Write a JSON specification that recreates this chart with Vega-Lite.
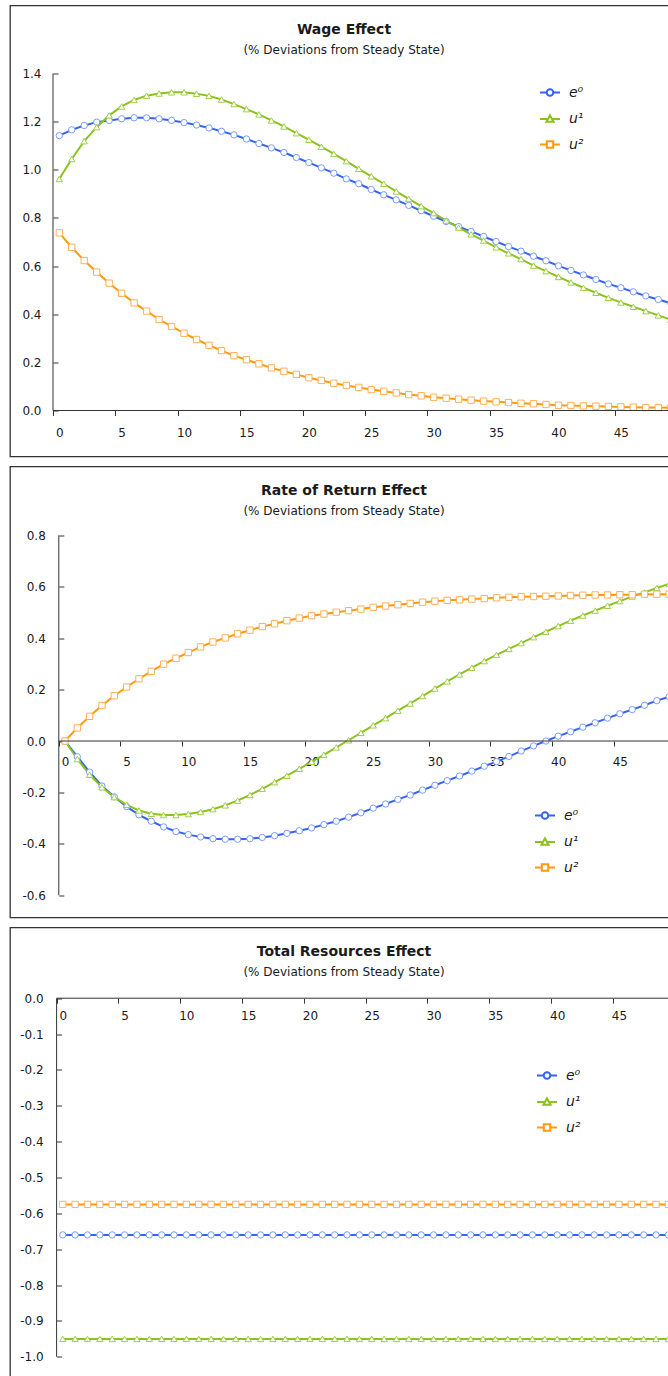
{
  "$schema": "https://vega.github.io/schema/vega-lite/v6.json",
  "padding": {"left": 9, "top": 4.5, "right": -22, "bottom": -19},
  "background": "white",
  "spacing": 8,
  "resolve": {"scale": {"color": "independent"}, "legend": {"color": "independent"}},
  "config": {
    "view": {"stroke": "#333333", "strokeWidth": 1.3},
    "axis": {"domain": false, "grid": false, "labelFont": "DejaVu Sans", "labelFontSize": 12, "labelColor": "#1a1a1a", "tickColor": "#333333", "tickWidth": 1, "labelOverlap": false, "labelFlush": false, "labelBound": false},
    "legend": {"orient": "none", "labelFont": "DejaVu Sans", "labelFontSize": 14, "labelFontStyle": "italic", "labelColor": "#1a1a1a", "symbolSize": 400, "rowPadding": 7.5, "labelOffset": 8, "padding": 0},
    "title": {"font": "DejaVu Sans", "fontSize": 14, "fontWeight": "bold", "color": "#1a1a1a", "subtitleFont": "DejaVu Sans", "subtitleFontSize": 12, "subtitleColor": "#1a1a1a", "subtitlePadding": 8, "anchor": "middle", "frame": "group"}
  },
  "datasets": {
    "wage": [
      {"t":0,"s":"e⁰","v":1.142},{"t":1,"s":"e⁰","v":1.166},{"t":2,"s":"e⁰","v":1.184},{"t":3,"s":"e⁰","v":1.198},{"t":4,"s":"e⁰","v":1.205},{"t":5,"s":"e⁰","v":1.212},{"t":6,"s":"e⁰","v":1.216},{"t":7,"s":"e⁰","v":1.216},{"t":8,"s":"e⁰","v":1.212},{"t":9,"s":"e⁰","v":1.205},{"t":10,"s":"e⁰","v":1.196},{"t":11,"s":"e⁰","v":1.186},{"t":12,"s":"e⁰","v":1.174},{"t":13,"s":"e⁰","v":1.160},{"t":14,"s":"e⁰","v":1.145},{"t":15,"s":"e⁰","v":1.128},{"t":16,"s":"e⁰","v":1.109},{"t":17,"s":"e⁰","v":1.091},{"t":18,"s":"e⁰","v":1.072},{"t":19,"s":"e⁰","v":1.051},{"t":20,"s":"e⁰","v":1.030},{"t":21,"s":"e⁰","v":1.008},{"t":22,"s":"e⁰","v":0.986},{"t":23,"s":"e⁰","v":0.962},{"t":24,"s":"e⁰","v":0.942},{"t":25,"s":"e⁰","v":0.918},{"t":26,"s":"e⁰","v":0.896},{"t":27,"s":"e⁰","v":0.875},{"t":28,"s":"e⁰","v":0.852},{"t":29,"s":"e⁰","v":0.830},{"t":30,"s":"e⁰","v":0.807},{"t":31,"s":"e⁰","v":0.785},{"t":32,"s":"e⁰","v":0.764},{"t":33,"s":"e⁰","v":0.744},{"t":34,"s":"e⁰","v":0.723},{"t":35,"s":"e⁰","v":0.702},{"t":36,"s":"e⁰","v":0.681},{"t":37,"s":"e⁰","v":0.662},{"t":38,"s":"e⁰","v":0.641},{"t":39,"s":"e⁰","v":0.622},{"t":40,"s":"e⁰","v":0.601},{"t":41,"s":"e⁰","v":0.582},{"t":42,"s":"e⁰","v":0.563},{"t":43,"s":"e⁰","v":0.544},{"t":44,"s":"e⁰","v":0.526},{"t":45,"s":"e⁰","v":0.510},{"t":46,"s":"e⁰","v":0.493},{"t":47,"s":"e⁰","v":0.476},{"t":48,"s":"e⁰","v":0.461},{"t":49,"s":"e⁰","v":0.446},{"t":50,"s":"e⁰","v":0.431},
      {"t":0,"s":"u¹","v":0.962},{"t":1,"s":"u¹","v":1.045},{"t":2,"s":"u¹","v":1.119},{"t":3,"s":"u¹","v":1.177},{"t":4,"s":"u¹","v":1.226},{"t":5,"s":"u¹","v":1.263},{"t":6,"s":"u¹","v":1.290},{"t":7,"s":"u¹","v":1.308},{"t":8,"s":"u¹","v":1.317},{"t":9,"s":"u¹","v":1.322},{"t":10,"s":"u¹","v":1.322},{"t":11,"s":"u¹","v":1.316},{"t":12,"s":"u¹","v":1.307},{"t":13,"s":"u¹","v":1.292},{"t":14,"s":"u¹","v":1.273},{"t":15,"s":"u¹","v":1.252},{"t":16,"s":"u¹","v":1.230},{"t":17,"s":"u¹","v":1.205},{"t":18,"s":"u¹","v":1.180},{"t":19,"s":"u¹","v":1.152},{"t":20,"s":"u¹","v":1.125},{"t":21,"s":"u¹","v":1.096},{"t":22,"s":"u¹","v":1.066},{"t":23,"s":"u¹","v":1.036},{"t":24,"s":"u¹","v":1.004},{"t":25,"s":"u¹","v":0.973},{"t":26,"s":"u¹","v":0.942},{"t":27,"s":"u¹","v":0.910},{"t":28,"s":"u¹","v":0.879},{"t":29,"s":"u¹","v":0.849},{"t":30,"s":"u¹","v":0.820},{"t":31,"s":"u¹","v":0.789},{"t":32,"s":"u¹","v":0.760},{"t":33,"s":"u¹","v":0.732},{"t":34,"s":"u¹","v":0.706},{"t":35,"s":"u¹","v":0.678},{"t":36,"s":"u¹","v":0.653},{"t":37,"s":"u¹","v":0.629},{"t":38,"s":"u¹","v":0.602},{"t":39,"s":"u¹","v":0.579},{"t":40,"s":"u¹","v":0.555},{"t":41,"s":"u¹","v":0.532},{"t":42,"s":"u¹","v":0.510},{"t":43,"s":"u¹","v":0.489},{"t":44,"s":"u¹","v":0.468},{"t":45,"s":"u¹","v":0.449},{"t":46,"s":"u¹","v":0.431},{"t":47,"s":"u¹","v":0.413},{"t":48,"s":"u¹","v":0.395},{"t":49,"s":"u¹","v":0.377},{"t":50,"s":"u¹","v":0.360},
      {"t":0,"s":"u²","v":0.738},{"t":1,"s":"u²","v":0.678},{"t":2,"s":"u²","v":0.623},{"t":3,"s":"u²","v":0.575},{"t":4,"s":"u²","v":0.529},{"t":5,"s":"u²","v":0.487},{"t":6,"s":"u²","v":0.447},{"t":7,"s":"u²","v":0.413},{"t":8,"s":"u²","v":0.378},{"t":9,"s":"u²","v":0.349},{"t":10,"s":"u²","v":0.321},{"t":11,"s":"u²","v":0.295},{"t":12,"s":"u²","v":0.271},{"t":13,"s":"u²","v":0.249},{"t":14,"s":"u²","v":0.228},{"t":15,"s":"u²","v":0.211},{"t":16,"s":"u²","v":0.194},{"t":17,"s":"u²","v":0.177},{"t":18,"s":"u²","v":0.163},{"t":19,"s":"u²","v":0.150},{"t":20,"s":"u²","v":0.136},{"t":21,"s":"u²","v":0.125},{"t":22,"s":"u²","v":0.113},{"t":23,"s":"u²","v":0.104},{"t":24,"s":"u²","v":0.096},{"t":25,"s":"u²","v":0.087},{"t":26,"s":"u²","v":0.080},{"t":27,"s":"u²","v":0.073},{"t":28,"s":"u²","v":0.066},{"t":29,"s":"u²","v":0.061},{"t":30,"s":"u²","v":0.055},{"t":31,"s":"u²","v":0.051},{"t":32,"s":"u²","v":0.047},{"t":33,"s":"u²","v":0.043},{"t":34,"s":"u²","v":0.039},{"t":35,"s":"u²","v":0.036},{"t":36,"s":"u²","v":0.033},{"t":37,"s":"u²","v":0.030},{"t":38,"s":"u²","v":0.028},{"t":39,"s":"u²","v":0.025},{"t":40,"s":"u²","v":0.022},{"t":41,"s":"u²","v":0.021},{"t":42,"s":"u²","v":0.019},{"t":43,"s":"u²","v":0.018},{"t":44,"s":"u²","v":0.017},{"t":45,"s":"u²","v":0.015},{"t":46,"s":"u²","v":0.014},{"t":47,"s":"u²","v":0.012},{"t":48,"s":"u²","v":0.012},{"t":49,"s":"u²","v":0.011},{"t":50,"s":"u²","v":0.010}
    ],
    "ror": [
      {"t":0,"s":"e⁰","v":0.000},{"t":1,"s":"e⁰","v":-0.061},{"t":2,"s":"e⁰","v":-0.121},{"t":3,"s":"e⁰","v":-0.175},{"t":4,"s":"e⁰","v":-0.217},{"t":5,"s":"e⁰","v":-0.255},{"t":6,"s":"e⁰","v":-0.287},{"t":7,"s":"e⁰","v":-0.312},{"t":8,"s":"e⁰","v":-0.334},{"t":9,"s":"e⁰","v":-0.352},{"t":10,"s":"e⁰","v":-0.364},{"t":11,"s":"e⁰","v":-0.373},{"t":12,"s":"e⁰","v":-0.380},{"t":13,"s":"e⁰","v":-0.382},{"t":14,"s":"e⁰","v":-0.382},{"t":15,"s":"e⁰","v":-0.380},{"t":16,"s":"e⁰","v":-0.375},{"t":17,"s":"e⁰","v":-0.368},{"t":18,"s":"e⁰","v":-0.359},{"t":19,"s":"e⁰","v":-0.349},{"t":20,"s":"e⁰","v":-0.338},{"t":21,"s":"e⁰","v":-0.325},{"t":22,"s":"e⁰","v":-0.312},{"t":23,"s":"e⁰","v":-0.296},{"t":24,"s":"e⁰","v":-0.279},{"t":25,"s":"e⁰","v":-0.261},{"t":26,"s":"e⁰","v":-0.245},{"t":27,"s":"e⁰","v":-0.227},{"t":28,"s":"e⁰","v":-0.210},{"t":29,"s":"e⁰","v":-0.191},{"t":30,"s":"e⁰","v":-0.172},{"t":31,"s":"e⁰","v":-0.154},{"t":32,"s":"e⁰","v":-0.136},{"t":33,"s":"e⁰","v":-0.117},{"t":34,"s":"e⁰","v":-0.098},{"t":35,"s":"e⁰","v":-0.080},{"t":36,"s":"e⁰","v":-0.060},{"t":37,"s":"e⁰","v":-0.039},{"t":38,"s":"e⁰","v":-0.019},{"t":39,"s":"e⁰","v":0.000},{"t":40,"s":"e⁰","v":0.019},{"t":41,"s":"e⁰","v":0.036},{"t":42,"s":"e⁰","v":0.054},{"t":43,"s":"e⁰","v":0.071},{"t":44,"s":"e⁰","v":0.089},{"t":45,"s":"e⁰","v":0.106},{"t":46,"s":"e⁰","v":0.122},{"t":47,"s":"e⁰","v":0.139},{"t":48,"s":"e⁰","v":0.157},{"t":49,"s":"e⁰","v":0.172},{"t":50,"s":"e⁰","v":0.188},
      {"t":0,"s":"u¹","v":0.000},{"t":1,"s":"u¹","v":-0.070},{"t":2,"s":"u¹","v":-0.131},{"t":3,"s":"u¹","v":-0.180},{"t":4,"s":"u¹","v":-0.218},{"t":5,"s":"u¹","v":-0.248},{"t":6,"s":"u¹","v":-0.270},{"t":7,"s":"u¹","v":-0.283},{"t":8,"s":"u¹","v":-0.288},{"t":9,"s":"u¹","v":-0.288},{"t":10,"s":"u¹","v":-0.284},{"t":11,"s":"u¹","v":-0.276},{"t":12,"s":"u¹","v":-0.265},{"t":13,"s":"u¹","v":-0.250},{"t":14,"s":"u¹","v":-0.232},{"t":15,"s":"u¹","v":-0.210},{"t":16,"s":"u¹","v":-0.186},{"t":17,"s":"u¹","v":-0.160},{"t":18,"s":"u¹","v":-0.135},{"t":19,"s":"u¹","v":-0.108},{"t":20,"s":"u¹","v":-0.081},{"t":21,"s":"u¹","v":-0.054},{"t":22,"s":"u¹","v":-0.025},{"t":23,"s":"u¹","v":0.003},{"t":24,"s":"u¹","v":0.032},{"t":25,"s":"u¹","v":0.061},{"t":26,"s":"u¹","v":0.089},{"t":27,"s":"u¹","v":0.118},{"t":28,"s":"u¹","v":0.146},{"t":29,"s":"u¹","v":0.175},{"t":30,"s":"u¹","v":0.204},{"t":31,"s":"u¹","v":0.232},{"t":32,"s":"u¹","v":0.259},{"t":33,"s":"u¹","v":0.285},{"t":34,"s":"u¹","v":0.311},{"t":35,"s":"u¹","v":0.335},{"t":36,"s":"u¹","v":0.358},{"t":37,"s":"u¹","v":0.381},{"t":38,"s":"u¹","v":0.404},{"t":39,"s":"u¹","v":0.425},{"t":40,"s":"u¹","v":0.447},{"t":41,"s":"u¹","v":0.468},{"t":42,"s":"u¹","v":0.488},{"t":43,"s":"u¹","v":0.507},{"t":44,"s":"u¹","v":0.526},{"t":45,"s":"u¹","v":0.544},{"t":46,"s":"u¹","v":0.562},{"t":47,"s":"u¹","v":0.578},{"t":48,"s":"u¹","v":0.595},{"t":49,"s":"u¹","v":0.611},{"t":50,"s":"u¹","v":0.627},
      {"t":0,"s":"u²","v":0.000},{"t":1,"s":"u²","v":0.051},{"t":2,"s":"u²","v":0.096},{"t":3,"s":"u²","v":0.138},{"t":4,"s":"u²","v":0.176},{"t":5,"s":"u²","v":0.210},{"t":6,"s":"u²","v":0.242},{"t":7,"s":"u²","v":0.271},{"t":8,"s":"u²","v":0.299},{"t":9,"s":"u²","v":0.322},{"t":10,"s":"u²","v":0.344},{"t":11,"s":"u²","v":0.366},{"t":12,"s":"u²","v":0.385},{"t":13,"s":"u²","v":0.401},{"t":14,"s":"u²","v":0.417},{"t":15,"s":"u²","v":0.431},{"t":16,"s":"u²","v":0.445},{"t":17,"s":"u²","v":0.456},{"t":18,"s":"u²","v":0.468},{"t":19,"s":"u²","v":0.478},{"t":20,"s":"u²","v":0.487},{"t":21,"s":"u²","v":0.494},{"t":22,"s":"u²","v":0.501},{"t":23,"s":"u²","v":0.507},{"t":24,"s":"u²","v":0.513},{"t":25,"s":"u²","v":0.520},{"t":26,"s":"u²","v":0.525},{"t":27,"s":"u²","v":0.530},{"t":28,"s":"u²","v":0.535},{"t":29,"s":"u²","v":0.540},{"t":30,"s":"u²","v":0.544},{"t":31,"s":"u²","v":0.547},{"t":32,"s":"u²","v":0.549},{"t":33,"s":"u²","v":0.552},{"t":34,"s":"u²","v":0.554},{"t":35,"s":"u²","v":0.557},{"t":36,"s":"u²","v":0.559},{"t":37,"s":"u²","v":0.561},{"t":38,"s":"u²","v":0.562},{"t":39,"s":"u²","v":0.563},{"t":40,"s":"u²","v":0.564},{"t":41,"s":"u²","v":0.566},{"t":42,"s":"u²","v":0.567},{"t":43,"s":"u²","v":0.568},{"t":44,"s":"u²","v":0.568},{"t":45,"s":"u²","v":0.569},{"t":46,"s":"u²","v":0.569},{"t":47,"s":"u²","v":0.571},{"t":48,"s":"u²","v":0.571},{"t":49,"s":"u²","v":0.571},{"t":50,"s":"u²","v":0.572}
    ],
    "res": [
      {"t":0,"s":"e⁰","v":-0.66},{"t":1,"s":"e⁰","v":-0.66},{"t":2,"s":"e⁰","v":-0.66},{"t":3,"s":"e⁰","v":-0.66},{"t":4,"s":"e⁰","v":-0.66},{"t":5,"s":"e⁰","v":-0.66},{"t":6,"s":"e⁰","v":-0.66},{"t":7,"s":"e⁰","v":-0.66},{"t":8,"s":"e⁰","v":-0.66},{"t":9,"s":"e⁰","v":-0.66},{"t":10,"s":"e⁰","v":-0.66},{"t":11,"s":"e⁰","v":-0.66},{"t":12,"s":"e⁰","v":-0.66},{"t":13,"s":"e⁰","v":-0.66},{"t":14,"s":"e⁰","v":-0.66},{"t":15,"s":"e⁰","v":-0.66},{"t":16,"s":"e⁰","v":-0.66},{"t":17,"s":"e⁰","v":-0.66},{"t":18,"s":"e⁰","v":-0.66},{"t":19,"s":"e⁰","v":-0.66},{"t":20,"s":"e⁰","v":-0.66},{"t":21,"s":"e⁰","v":-0.66},{"t":22,"s":"e⁰","v":-0.66},{"t":23,"s":"e⁰","v":-0.66},{"t":24,"s":"e⁰","v":-0.66},{"t":25,"s":"e⁰","v":-0.66},{"t":26,"s":"e⁰","v":-0.66},{"t":27,"s":"e⁰","v":-0.66},{"t":28,"s":"e⁰","v":-0.66},{"t":29,"s":"e⁰","v":-0.66},{"t":30,"s":"e⁰","v":-0.66},{"t":31,"s":"e⁰","v":-0.66},{"t":32,"s":"e⁰","v":-0.66},{"t":33,"s":"e⁰","v":-0.66},{"t":34,"s":"e⁰","v":-0.66},{"t":35,"s":"e⁰","v":-0.66},{"t":36,"s":"e⁰","v":-0.66},{"t":37,"s":"e⁰","v":-0.66},{"t":38,"s":"e⁰","v":-0.66},{"t":39,"s":"e⁰","v":-0.66},{"t":40,"s":"e⁰","v":-0.66},{"t":41,"s":"e⁰","v":-0.66},{"t":42,"s":"e⁰","v":-0.66},{"t":43,"s":"e⁰","v":-0.66},{"t":44,"s":"e⁰","v":-0.66},{"t":45,"s":"e⁰","v":-0.66},{"t":46,"s":"e⁰","v":-0.66},{"t":47,"s":"e⁰","v":-0.66},{"t":48,"s":"e⁰","v":-0.66},{"t":49,"s":"e⁰","v":-0.66},{"t":50,"s":"e⁰","v":-0.66},
      {"t":0,"s":"u¹","v":-0.95},{"t":1,"s":"u¹","v":-0.95},{"t":2,"s":"u¹","v":-0.95},{"t":3,"s":"u¹","v":-0.95},{"t":4,"s":"u¹","v":-0.95},{"t":5,"s":"u¹","v":-0.95},{"t":6,"s":"u¹","v":-0.95},{"t":7,"s":"u¹","v":-0.95},{"t":8,"s":"u¹","v":-0.95},{"t":9,"s":"u¹","v":-0.95},{"t":10,"s":"u¹","v":-0.95},{"t":11,"s":"u¹","v":-0.95},{"t":12,"s":"u¹","v":-0.95},{"t":13,"s":"u¹","v":-0.95},{"t":14,"s":"u¹","v":-0.95},{"t":15,"s":"u¹","v":-0.95},{"t":16,"s":"u¹","v":-0.95},{"t":17,"s":"u¹","v":-0.95},{"t":18,"s":"u¹","v":-0.95},{"t":19,"s":"u¹","v":-0.95},{"t":20,"s":"u¹","v":-0.95},{"t":21,"s":"u¹","v":-0.95},{"t":22,"s":"u¹","v":-0.95},{"t":23,"s":"u¹","v":-0.95},{"t":24,"s":"u¹","v":-0.95},{"t":25,"s":"u¹","v":-0.95},{"t":26,"s":"u¹","v":-0.95},{"t":27,"s":"u¹","v":-0.95},{"t":28,"s":"u¹","v":-0.95},{"t":29,"s":"u¹","v":-0.95},{"t":30,"s":"u¹","v":-0.95},{"t":31,"s":"u¹","v":-0.95},{"t":32,"s":"u¹","v":-0.95},{"t":33,"s":"u¹","v":-0.95},{"t":34,"s":"u¹","v":-0.95},{"t":35,"s":"u¹","v":-0.95},{"t":36,"s":"u¹","v":-0.95},{"t":37,"s":"u¹","v":-0.95},{"t":38,"s":"u¹","v":-0.95},{"t":39,"s":"u¹","v":-0.95},{"t":40,"s":"u¹","v":-0.95},{"t":41,"s":"u¹","v":-0.95},{"t":42,"s":"u¹","v":-0.95},{"t":43,"s":"u¹","v":-0.95},{"t":44,"s":"u¹","v":-0.95},{"t":45,"s":"u¹","v":-0.95},{"t":46,"s":"u¹","v":-0.95},{"t":47,"s":"u¹","v":-0.95},{"t":48,"s":"u¹","v":-0.95},{"t":49,"s":"u¹","v":-0.95},{"t":50,"s":"u¹","v":-0.95},
      {"t":0,"s":"u²","v":-0.575},{"t":1,"s":"u²","v":-0.575},{"t":2,"s":"u²","v":-0.575},{"t":3,"s":"u²","v":-0.575},{"t":4,"s":"u²","v":-0.575},{"t":5,"s":"u²","v":-0.575},{"t":6,"s":"u²","v":-0.575},{"t":7,"s":"u²","v":-0.575},{"t":8,"s":"u²","v":-0.575},{"t":9,"s":"u²","v":-0.575},{"t":10,"s":"u²","v":-0.575},{"t":11,"s":"u²","v":-0.575},{"t":12,"s":"u²","v":-0.575},{"t":13,"s":"u²","v":-0.575},{"t":14,"s":"u²","v":-0.575},{"t":15,"s":"u²","v":-0.575},{"t":16,"s":"u²","v":-0.575},{"t":17,"s":"u²","v":-0.575},{"t":18,"s":"u²","v":-0.575},{"t":19,"s":"u²","v":-0.575},{"t":20,"s":"u²","v":-0.575},{"t":21,"s":"u²","v":-0.575},{"t":22,"s":"u²","v":-0.575},{"t":23,"s":"u²","v":-0.575},{"t":24,"s":"u²","v":-0.575},{"t":25,"s":"u²","v":-0.575},{"t":26,"s":"u²","v":-0.575},{"t":27,"s":"u²","v":-0.575},{"t":28,"s":"u²","v":-0.575},{"t":29,"s":"u²","v":-0.575},{"t":30,"s":"u²","v":-0.575},{"t":31,"s":"u²","v":-0.575},{"t":32,"s":"u²","v":-0.575},{"t":33,"s":"u²","v":-0.575},{"t":34,"s":"u²","v":-0.575},{"t":35,"s":"u²","v":-0.575},{"t":36,"s":"u²","v":-0.575},{"t":37,"s":"u²","v":-0.575},{"t":38,"s":"u²","v":-0.575},{"t":39,"s":"u²","v":-0.575},{"t":40,"s":"u²","v":-0.575},{"t":41,"s":"u²","v":-0.575},{"t":42,"s":"u²","v":-0.575},{"t":43,"s":"u²","v":-0.575},{"t":44,"s":"u²","v":-0.575},{"t":45,"s":"u²","v":-0.575},{"t":46,"s":"u²","v":-0.575},{"t":47,"s":"u²","v":-0.575},{"t":48,"s":"u²","v":-0.575},{"t":49,"s":"u²","v":-0.575},{"t":50,"s":"u²","v":-0.575}
    ]
  },
  "vconcat": [
    {
      "width": 681, "height": 451,
      "data": {"name": "wage"},
      "title": {"text": "Wage Effect", "subtitle": "(% Deviations from Steady State)", "offset": -50, "dx": -6.5},
      "layer": [
        {"mark": {"type": "line", "strokeWidth": 2},
         "encoding": {
           "x": {"field": "t", "type": "quantitative", "scale": {"domain": [-3.946, 50.62], "nice": false, "zero": false},
                 "axis": {"title": null, "orient": "bottom", "offset": -46, "values": [0,5,10,15,20,25,30,35,40,45], "tickSize": 5, "tickOffset": -6.24, "labelOffset": 6.24, "labelPadding": 12}},
           "y": {"field": "v", "type": "quantitative", "scale": {"domain": [-0.1911, 1.6825], "nice": false, "zero": false},
                 "axis": {"title": null, "orient": "left", "offset": -43, "values": [0,0.2,0.4,0.6,0.8,1.0,1.2,1.4], "tickSize": -5, "labelPadding": 17, "labelExpr": "replace(format(datum.value, '.1f'), '\u2212', '-')"}},
           "color": {"field": "s", "type": "nominal", "scale": {"domain": ["e⁰","u¹","u²"], "range": ["#3563F5","#8CC21E","#FF9A0A"]},
                     "legend": {"title": null, "legendX": 529, "legendY": 76,
                                "encode": {"symbols": {"update": {"shape": {"signal": "datum.value === 'e⁰' ? 'M-1,0H-0.33M0.33,0H1M0.33,0A0.33,0.33,0,1,1,-0.33,0A0.33,0.33,0,1,1,0.33,0Z' : datum.value === 'u¹' ? 'M-1,0H-0.2M0.2,0H1M0,-0.36L0.36,0.28L-0.36,0.28Z' : 'M-1,0H-0.32M0.32,0H1M-0.32,-0.32H0.32V0.32H-0.32Z'"}, "fill": {"value": "white"}, "strokeWidth": {"value": 2}, "size": {"value": 400}}}}}}
         }},
        {"transform": [{"filter": {"field": "s", "equal": "e⁰"}}],
         "mark": {"type": "point", "shape": "circle", "filled": true, "fill": "white", "stroke": "#7B9BFF", "size": 40, "strokeWidth": 1, "opacity": 1},
         "encoding": {"x": {"field": "t", "type": "quantitative"}, "y": {"field": "v", "type": "quantitative"}}},
        {"transform": [{"filter": {"field": "s", "equal": "u¹"}}],
         "mark": {"type": "point", "shape": "triangle-up", "filled": true, "fill": "white", "stroke": "#9FD047", "size": 40, "strokeWidth": 1, "opacity": 1},
         "encoding": {"x": {"field": "t", "type": "quantitative"}, "y": {"field": "v", "type": "quantitative"}}},
        {"transform": [{"filter": {"field": "s", "equal": "u²"}}],
         "mark": {"type": "point", "shape": "square", "filled": true, "fill": "white", "stroke": "#FFB05A", "size": 40, "strokeWidth": 1, "opacity": 1},
         "encoding": {"x": {"field": "t", "type": "quantitative"}, "y": {"field": "v", "type": "quantitative"}}},
        {"data": {"values": [{}]}, "mark": {"type": "rule", "color": "#333333", "strokeWidth": 1},
         "encoding": {"x": {"datum": -0.5, "type": "quantitative"}, "y": {"datum": 0, "type": "quantitative"}, "y2": {"datum": 1.4}}},
        {"data": {"values": [{}]}, "mark": {"type": "rule", "color": "#333333", "strokeWidth": 1},
         "encoding": {"x": {"datum": -0.5, "type": "quantitative"}, "x2": {"datum": 50.6}, "y": {"datum": 0, "type": "quantitative"}}}
      ]
    },
    {
      "width": 681, "height": 451,
      "data": {"name": "ror"},
      "title": {"text": "Rate of Return Effect", "subtitle": "(% Deviations from Steady State)", "offset": -50, "dx": -6.5},
      "layer": [
        {"mark": {"type": "line", "strokeWidth": 2},
         "encoding": {
           "x": {"field": "t", "type": "quantitative", "scale": {"domain": [-4.458, 50.77], "nice": false, "zero": false},
                 "axis": {"title": null, "orient": "bottom", "offset": -176.5, "values": [0,5,10,15,20,25,30,35,40,45], "tickSize": 5, "tickOffset": -6.17, "labelOffset": 6.17, "labelPadding": 10}},
           "y": {"field": "v", "type": "quantitative", "scale": {"domain": [-0.6863, 1.0676], "nice": false, "zero": false},
                 "axis": {"title": null, "orient": "left", "offset": -48.8, "values": [-0.6,-0.4,-0.2,0,0.2,0.4,0.6,0.8], "tickSize": -5, "labelPadding": 18.5, "labelExpr": "replace(format(datum.value, '.1f'), '\u2212', '-')"}},
           "color": {"field": "s", "type": "nominal", "scale": {"domain": ["e⁰","u¹","u²"], "range": ["#3563F5","#8CC21E","#FF9A0A"]},
                     "legend": {"title": null, "legendX": 524, "legendY": 338,
                                "encode": {"symbols": {"update": {"shape": {"signal": "datum.value === 'e⁰' ? 'M-1,0H-0.33M0.33,0H1M0.33,0A0.33,0.33,0,1,1,-0.33,0A0.33,0.33,0,1,1,0.33,0Z' : datum.value === 'u¹' ? 'M-1,0H-0.2M0.2,0H1M0,-0.36L0.36,0.28L-0.36,0.28Z' : 'M-1,0H-0.32M0.32,0H1M-0.32,-0.32H0.32V0.32H-0.32Z'"}, "fill": {"value": "white"}, "strokeWidth": {"value": 2}, "size": {"value": 400}}}}}}
         }},
        {"transform": [{"filter": {"field": "s", "equal": "e⁰"}}],
         "mark": {"type": "point", "shape": "circle", "filled": true, "fill": "white", "stroke": "#7B9BFF", "size": 40, "strokeWidth": 1, "opacity": 1},
         "encoding": {"x": {"field": "t", "type": "quantitative"}, "y": {"field": "v", "type": "quantitative"}}},
        {"transform": [{"filter": {"field": "s", "equal": "u¹"}}],
         "mark": {"type": "point", "shape": "triangle-up", "filled": true, "fill": "white", "stroke": "#9FD047", "size": 40, "strokeWidth": 1, "opacity": 1},
         "encoding": {"x": {"field": "t", "type": "quantitative"}, "y": {"field": "v", "type": "quantitative"}}},
        {"transform": [{"filter": {"field": "s", "equal": "u²"}}],
         "mark": {"type": "point", "shape": "square", "filled": true, "fill": "white", "stroke": "#FFB05A", "size": 40, "strokeWidth": 1, "opacity": 1},
         "encoding": {"x": {"field": "t", "type": "quantitative"}, "y": {"field": "v", "type": "quantitative"}}},
        {"data": {"values": [{}]}, "mark": {"type": "rule", "color": "#333333", "strokeWidth": 1},
         "encoding": {"x": {"datum": -0.5, "type": "quantitative"}, "y": {"datum": -0.6, "type": "quantitative"}, "y2": {"datum": 0.8}}},
        {"data": {"values": [{}]}, "mark": {"type": "rule", "color": "#333333", "strokeWidth": 1},
         "encoding": {"x": {"datum": -0.5, "type": "quantitative"}, "x2": {"datum": 50.7}, "y": {"datum": 0, "type": "quantitative"}}}
      ]
    },
    {
      "width": 681, "height": 467,
      "data": {"name": "res"},
      "title": {"text": "Total Resources Effect", "subtitle": "(% Deviations from Steady State)", "offset": -50, "dx": -6.5},
      "layer": [
        {"mark": {"type": "line", "strokeWidth": 2},
         "encoding": {
           "x": {"field": "t", "type": "quantitative", "scale": {"domain": [-4.270, 50.83], "nice": false, "zero": false},
                 "axis": {"title": null, "orient": "bottom", "offset": -396.3, "values": [0,5,10,15,20,25,30,35,40,45], "tickSize": 5, "tickOffset": -6.18, "labelOffset": 6.18, "labelPadding": 7.5}},
           "y": {"field": "v", "type": "quantitative", "scale": {"domain": [-1.1051, 0.1972], "nice": false, "zero": false},
                 "axis": {"title": null, "orient": "left", "offset": -46.6, "values": [-1.0,-0.9,-0.8,-0.7,-0.6,-0.5,-0.4,-0.3,-0.2,-0.1,0], "tickSize": -5, "labelPadding": 18.5, "labelExpr": "replace(format(datum.value, '.1f'), '\u2212', '-')"}},
           "color": {"field": "s", "type": "nominal", "scale": {"domain": ["e⁰","u¹","u²"], "range": ["#3563F5","#8CC21E","#FF9A0A"]},
                     "legend": {"title": null, "legendX": 526, "legendY": 137,
                                "encode": {"symbols": {"update": {"shape": {"signal": "datum.value === 'e⁰' ? 'M-1,0H-0.33M0.33,0H1M0.33,0A0.33,0.33,0,1,1,-0.33,0A0.33,0.33,0,1,1,0.33,0Z' : datum.value === 'u¹' ? 'M-1,0H-0.2M0.2,0H1M0,-0.36L0.36,0.28L-0.36,0.28Z' : 'M-1,0H-0.32M0.32,0H1M-0.32,-0.32H0.32V0.32H-0.32Z'"}, "fill": {"value": "white"}, "strokeWidth": {"value": 2}, "size": {"value": 400}}}}}}
         }},
        {"transform": [{"filter": {"field": "s", "equal": "e⁰"}}],
         "mark": {"type": "point", "shape": "circle", "filled": true, "fill": "white", "stroke": "#7B9BFF", "size": 40, "strokeWidth": 1, "opacity": 1},
         "encoding": {"x": {"field": "t", "type": "quantitative"}, "y": {"field": "v", "type": "quantitative"}}},
        {"transform": [{"filter": {"field": "s", "equal": "u¹"}}],
         "mark": {"type": "point", "shape": "triangle-up", "filled": true, "fill": "white", "stroke": "#9FD047", "size": 40, "strokeWidth": 1, "opacity": 1},
         "encoding": {"x": {"field": "t", "type": "quantitative"}, "y": {"field": "v", "type": "quantitative"}}},
        {"transform": [{"filter": {"field": "s", "equal": "u²"}}],
         "mark": {"type": "point", "shape": "square", "filled": true, "fill": "white", "stroke": "#FFB05A", "size": 40, "strokeWidth": 1, "opacity": 1},
         "encoding": {"x": {"field": "t", "type": "quantitative"}, "y": {"field": "v", "type": "quantitative"}}},
        {"data": {"values": [{}]}, "mark": {"type": "rule", "color": "#333333", "strokeWidth": 1},
         "encoding": {"x": {"datum": -0.5, "type": "quantitative"}, "y": {"datum": -1.0, "type": "quantitative"}, "y2": {"datum": 0}}},
        {"data": {"values": [{}]}, "mark": {"type": "rule", "color": "#333333", "strokeWidth": 1},
         "encoding": {"x": {"datum": -0.5, "type": "quantitative"}, "x2": {"datum": 50.8}, "y": {"datum": 0, "type": "quantitative"}}}
      ]
    }
  ]
}
